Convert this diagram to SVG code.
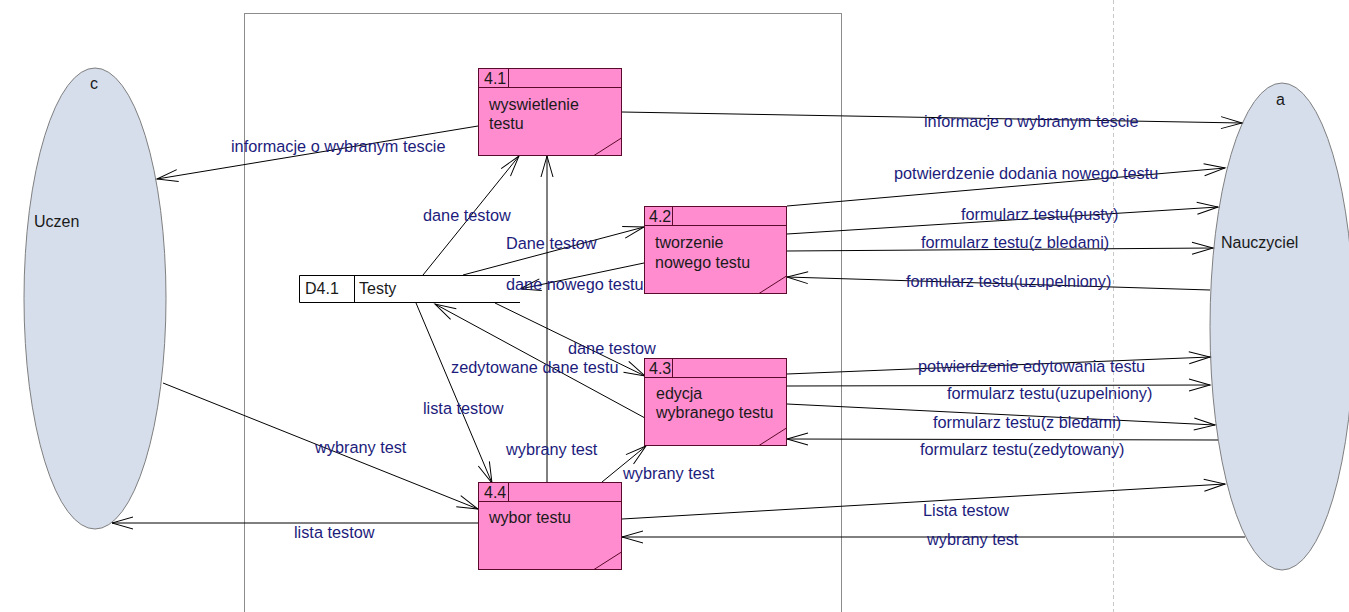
<svg xmlns="http://www.w3.org/2000/svg" width="1349" height="612" viewBox="0 0 1349 612">
  <style>
    .frame { fill: none; stroke: #8c8c8c; stroke-width: 1; }
    .lane { fill: none; stroke: #c8c8c8; stroke-width: 1; stroke-dasharray: 4 3; }
    .ext { fill: #d6deec; stroke: #7f7f7f; stroke-width: 1; }
    .proc { fill: #ff8ccf; stroke: #5a0a2a; stroke-width: 1; }
    .pl { fill: none; stroke: #5a0a2a; stroke-width: 1; }
    .store { fill: #ffffff; stroke: #000; stroke-width: 1; }
    .flow { fill: none; stroke: #000; stroke-width: 1; marker-end: url(#arr); }
    text { font-family: "Liberation Sans", Arial, sans-serif; font-size: 16px; }
    .nt { fill: #1a1a1a; }
    .fl { fill: #1c1c7c; font-size: 16.3px; }
  </style>
  <defs>
    <marker id="arr" markerWidth="24" markerHeight="14" refX="21" refY="6" orient="auto" markerUnits="userSpaceOnUse" overflow="visible">
      <path d="M0,0 L21,6 L0,12" fill="none" stroke="#000" stroke-width="1"/>
    </marker>
  </defs>

  <rect width="1349" height="612" fill="#ffffff"/>

  <!-- system boundary and lane divider -->
  <rect class="frame" x="244.5" y="13.5" width="597" height="620"/>
  <line class="lane" x1="1113.5" y1="0" x2="1113.5" y2="612"/>

  <!-- external entities -->
  <g id="uczen">
    <ellipse class="ext" cx="95" cy="298.5" rx="71" ry="230.5"/>
    <text class="nt" x="90" y="89">c</text>
    <text class="nt" x="34" y="227">Uczen</text>
  </g>
  <g id="nauczyciel">
    <ellipse class="ext" cx="1282" cy="326.5" rx="72" ry="243.5"/>
    <text class="nt" x="1276" y="105">a</text>
    <text class="nt" x="1221" y="248">Nauczyciel</text>
  </g>

  <!-- connectors -->
  <g id="connectors">
    <line class="flow" x1="478" y1="126" x2="157" y2="179"/>
    <line class="flow" x1="622" y1="112" x2="1242" y2="123"/>
    <line class="flow" x1="787" y1="206" x2="1225" y2="168"/>
    <line class="flow" x1="787" y1="234" x2="1218" y2="207"/>
    <line class="flow" x1="787" y1="251" x2="1213" y2="248"/>
    <line class="flow" x1="1210" y1="290" x2="787" y2="277"/>
    <line class="flow" x1="787" y1="374" x2="1210" y2="357"/>
    <line class="flow" x1="787" y1="386" x2="1210" y2="385"/>
    <line class="flow" x1="787" y1="404" x2="1215" y2="425"/>
    <line class="flow" x1="1218" y1="440" x2="787" y2="439"/>
    <line class="flow" x1="622" y1="519" x2="1225" y2="484"/>
    <line class="flow" x1="1245" y1="537" x2="622" y2="537"/>
    <line class="flow" x1="478" y1="523" x2="112" y2="523"/>
    <line class="flow" x1="163" y1="383" x2="478" y2="509"/>
    <line class="flow" x1="423" y1="275" x2="519" y2="156"/>
    <line class="flow" x1="547" y1="482" x2="547" y2="156"/>
    <line class="flow" x1="463" y1="275" x2="644" y2="227"/>
    <line class="flow" x1="644" y1="263" x2="520" y2="289"/>
    <line class="flow" x1="495" y1="303" x2="645" y2="376"/>
    <line class="flow" x1="645" y1="418" x2="435" y2="304"/>
    <line class="flow" x1="416" y1="303" x2="492" y2="483"/>
    <line class="flow" x1="602" y1="482" x2="646" y2="446"/>
  </g>

  <!-- data store -->
  <g id="d41">
    <rect x="299.5" y="275.5" width="221" height="27" fill="#ffffff"/>
    <path class="store" d="M520,275.5 H299.5 V302.5 H520" fill="none"/>
    <line class="store" x1="354.5" y1="275.5" x2="354.5" y2="302.5"/>
    <text class="nt" x="305" y="294">D4.1</text>
    <text class="nt" x="359" y="294">Testy</text>
  </g>

  <!-- processes -->
  <g id="p41">
    <rect class="proc" x="478.5" y="68.5" width="143" height="87"/>
    <line class="pl" x1="478.5" y1="87.5" x2="621.5" y2="87.5"/>
    <line class="pl" x1="508.5" y1="68.5" x2="508.5" y2="87.5"/>
    <line class="pl" x1="594" y1="155.5" x2="621.5" y2="138"/>
    <text class="nt" x="484" y="84">4.1</text>
    <text class="nt" x="489" y="110">wyswietlenie</text>
    <text class="nt" x="489" y="129">testu</text>
  </g>
  <g id="p42">
    <rect class="proc" x="644.5" y="206.5" width="142" height="87"/>
    <line class="pl" x1="644.5" y1="225.5" x2="786.5" y2="225.5"/>
    <line class="pl" x1="672.5" y1="206.5" x2="672.5" y2="225.5"/>
    <line class="pl" x1="759" y1="293.5" x2="786.5" y2="276"/>
    <text class="nt" x="649" y="222">4.2</text>
    <text class="nt" x="655" y="248">tworzenie</text>
    <text class="nt" x="655" y="268">nowego testu</text>
  </g>
  <g id="p43">
    <rect class="proc" x="644.5" y="358.5" width="142" height="87"/>
    <line class="pl" x1="644.5" y1="377.5" x2="786.5" y2="377.5"/>
    <line class="pl" x1="672.5" y1="358.5" x2="672.5" y2="377.5"/>
    <line class="pl" x1="759" y1="445.5" x2="786.5" y2="428"/>
    <text class="nt" x="649" y="374">4.3</text>
    <text class="nt" x="656" y="399">edycja</text>
    <text class="nt" x="656" y="418">wybranego testu</text>
  </g>
  <g id="p44">
    <rect class="proc" x="478.5" y="482.5" width="143" height="87"/>
    <line class="pl" x1="478.5" y1="501.5" x2="621.5" y2="501.5"/>
    <line class="pl" x1="508.5" y1="482.5" x2="508.5" y2="501.5"/>
    <line class="pl" x1="594" y1="569.5" x2="621.5" y2="552"/>
    <text class="nt" x="484" y="498">4.4</text>
    <text class="nt" x="489" y="523">wybor testu</text>
  </g>

  <!-- flow labels -->
  <g id="labels">
    <text class="fl" x="231" y="152">informacje o wybranym tescie</text>
    <text class="fl" x="924" y="127">informacje o wybranym tescie</text>
    <text class="fl" x="894" y="179">potwierdzenie dodania nowego testu</text>
    <text class="fl" x="961" y="220">formularz testu(pusty)</text>
    <text class="fl" x="921" y="248">formularz testu(z bledami)</text>
    <text class="fl" x="906" y="287">formularz testu(uzupelniony)</text>
    <text class="fl" x="918" y="372">potwierdzenie edytowania testu</text>
    <text class="fl" x="947" y="399">formularz testu(uzupelniony)</text>
    <text class="fl" x="933" y="428">formularz testu(z bledami)</text>
    <text class="fl" x="920" y="455">formularz testu(zedytowany)</text>
    <text class="fl" x="923" y="516">Lista testow</text>
    <text class="fl" x="927" y="545">wybrany test</text>
    <text class="fl" x="294" y="538">lista testow</text>
    <text class="fl" x="315" y="453">wybrany test</text>
    <text class="fl" x="423" y="221">dane testow</text>
    <text class="fl" x="506" y="455">wybrany test</text>
    <text class="fl" x="506" y="249">Dane testow</text>
    <text class="fl" x="506" y="290">dane nowego testu</text>
    <text class="fl" x="568" y="354">dane testow</text>
    <text class="fl" x="451" y="373">zedytowane dane testu</text>
    <text class="fl" x="423" y="414">lista testow</text>
    <text class="fl" x="623" y="479">wybrany test</text>
  </g>
</svg>
